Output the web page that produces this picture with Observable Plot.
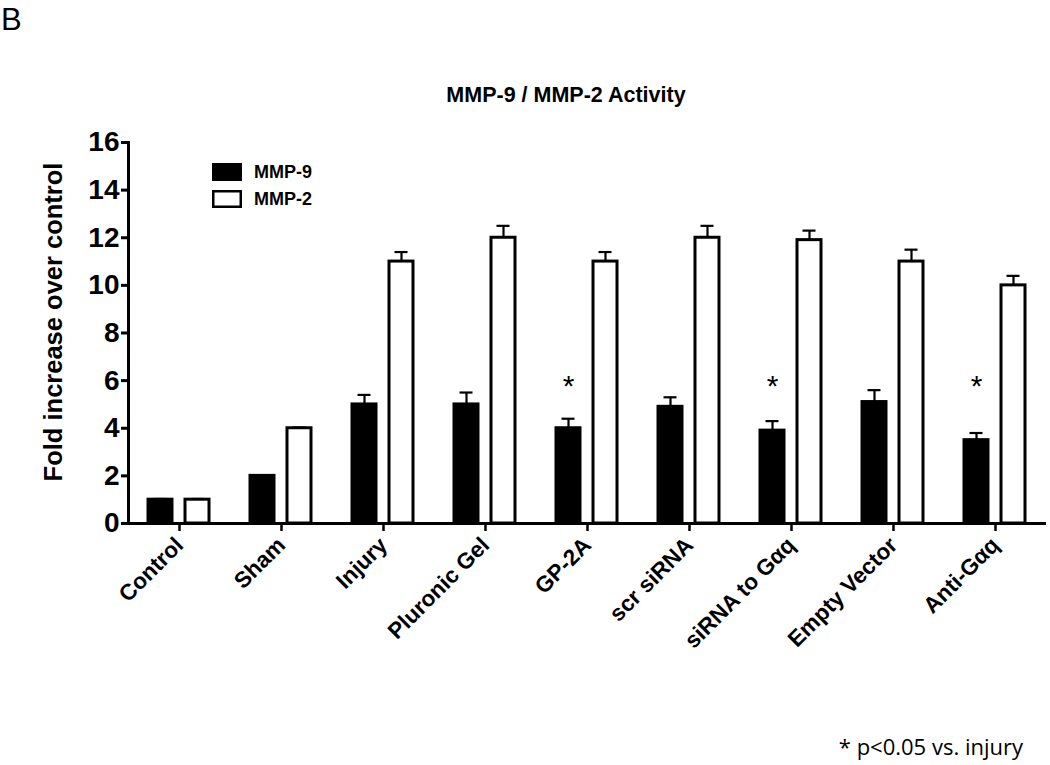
<!DOCTYPE html>
<html>
<head>
<meta charset="utf-8">
<script src="https://cdn.jsdelivr.net/npm/d3@7"></script>
<script src="https://cdn.jsdelivr.net/npm/@observablehq/plot@0.6"></script>
<style>
  html, body { margin: 0; padding: 0; background: #fff; }
  #wrap { position: relative; width: 1050px; height: 765px; overflow: hidden; }
  #wrap > svg { position: absolute; left: 0; top: 0; }
  #overlay { pointer-events: none; }
</style>
</head>
<body>
<div id="wrap"></div>
<script>
// ---- data ----
const categories = ["Control", "Sham", "Injury", "Pluronic Gel", "GP-2A", "scr siRNA", "siRNA to Gαq", "Empty Vector", "Anti-Gαq"];
const series = ["MMP-9", "MMP-2"];
const mmp9 = [1.0, 2.0, 5.0, 5.0, 4.0, 4.9, 3.9, 5.1, 3.5];
const mmp9Err = [0.03, 0.03, 0.4, 0.5, 0.4, 0.4, 0.4, 0.5, 0.3];
const mmp2 = [1.0, 4.0, 11.0, 12.0, 11.0, 12.0, 11.9, 11.0, 10.0];
const mmp2Err = [0.03, 0.03, 0.4, 0.5, 0.4, 0.5, 0.4, 0.5, 0.4];
const starred = ["GP-2A", "siRNA to Gαq", "Anti-Gαq"];
const starLevel = 5.75;
const yTicks = [0, 2, 4, 6, 8, 10, 12, 14, 16];
const seriesFill = ["black", "white"];
const yLabel = "Fold increase over control";

const rows = [];
categories.forEach((c, i) => {
  rows.push({cat: c, series: series[0], value: mmp9[i], err: mmp9Err[i]});
  rows.push({cat: c, series: series[1], value: mmp2[i], err: mmp2Err[i]});
});
const stars = starred.map(c => ({cat: c, series: series[0], y: starLevel}));

const font = "'Liberation Sans', Arial, Helvetica, sans-serif";

const chart = Plot.plot({
  width: 1050,
  height: 765,
  marginTop: 142,
  marginBottom: 242,
  marginLeft: 126,
  marginRight: 3,
  style: {fontFamily: font, background: "transparent", overflow: "visible", color: "black"},
  fx: {domain: categories, padding: 0},
  x: {domain: series, paddingInner: 0.342, paddingOuter: 0.52, axis: null},
  y: {domain: [0, 16]},
  color: {domain: series, range: seriesFill},
  marks: [
    Plot.barY(rows, {fx: "cat", x: "series", y: "value", fill: "series", stroke: "black", strokeWidth: 3}),
    Plot.ruleX(rows, {fx: "cat", x: "series", y1: "value", y2: d => d.value + d.err, stroke: "black", strokeWidth: 2.2}),
    Plot.tickY(rows, {fx: "cat", x: "series", y: d => d.value + d.err, stroke: "black", strokeWidth: 2.2, insetLeft: 5.5, insetRight: 5.5}),
    Plot.text(stars, {fx: "cat", x: "series", y: "y", text: () => "*", fontSize: 30, lineAnchor: "middle", fill: "black"}),
    Plot.ruleY([0], {stroke: "black", strokeWidth: 3}),
    Plot.frame({anchor: "left", facet: "super", stroke: "black", strokeWidth: 3}),
    Plot.axisY({ticks: yTicks, tickSize: 7, tickPadding: 2, strokeWidth: 3, fontSize: 28, fontWeight: "bold", label: null}),
    Plot.axisFx({anchor: "bottom", tickRotate: -45, tickSize: 8, tickPadding: 10, strokeWidth: 2.5, fontSize: 22.5, fontWeight: "bold", label: null})
  ]
});

const wrap = document.getElementById("wrap");
wrap.appendChild(chart);

// ---- overlay: panel letter, title, axis title, legend, footnote ----
const ns = "http://www.w3.org/2000/svg";
const ov = document.createElementNS(ns, "svg");
ov.setAttribute("id", "overlay");
ov.setAttribute("width", 1050);
ov.setAttribute("height", 765);
wrap.appendChild(ov);
function txt(str, x, y, attrs) {
  const t = document.createElementNS(ns, "text");
  t.textContent = str;
  t.setAttribute("x", x);
  t.setAttribute("y", y);
  for (const k in attrs) t.setAttribute(k, attrs[k]);
  ov.appendChild(t);
  return t;
}
txt("B", 1, 30, {"font-family": font, "font-size": 31});
txt("MMP-9 / MMP-2 Activity", 566, 102, {"font-family": font, "font-size": 21.5, "font-weight": "bold", "text-anchor": "middle"});
txt(yLabel, 0, 0, {"font-family": font, "font-size": 25.5, "font-weight": "bold", "text-anchor": "middle",
  "transform": "translate(62,322) rotate(-90)"});
// legend
series.forEach((s, i) => {
  const r = document.createElementNS(ns, "rect");
  r.setAttribute("x", 213.25);
  r.setAttribute("y", 164.25 + i * 27);
  r.setAttribute("width", 27.5);
  r.setAttribute("height", 15.5);
  r.setAttribute("fill", seriesFill[i]);
  r.setAttribute("stroke", "black");
  r.setAttribute("stroke-width", 2.5);
  ov.appendChild(r);
  txt(s, 254, 178 + i * 27, {"font-family": font, "font-size": 18, "font-weight": "bold"});
});
txt("* p<0.05 vs. injury", 1023, 755, {"font-family": "'Open Sans', sans-serif", "font-size": 22, "text-anchor": "end"});
</script>
</body>
</html>
